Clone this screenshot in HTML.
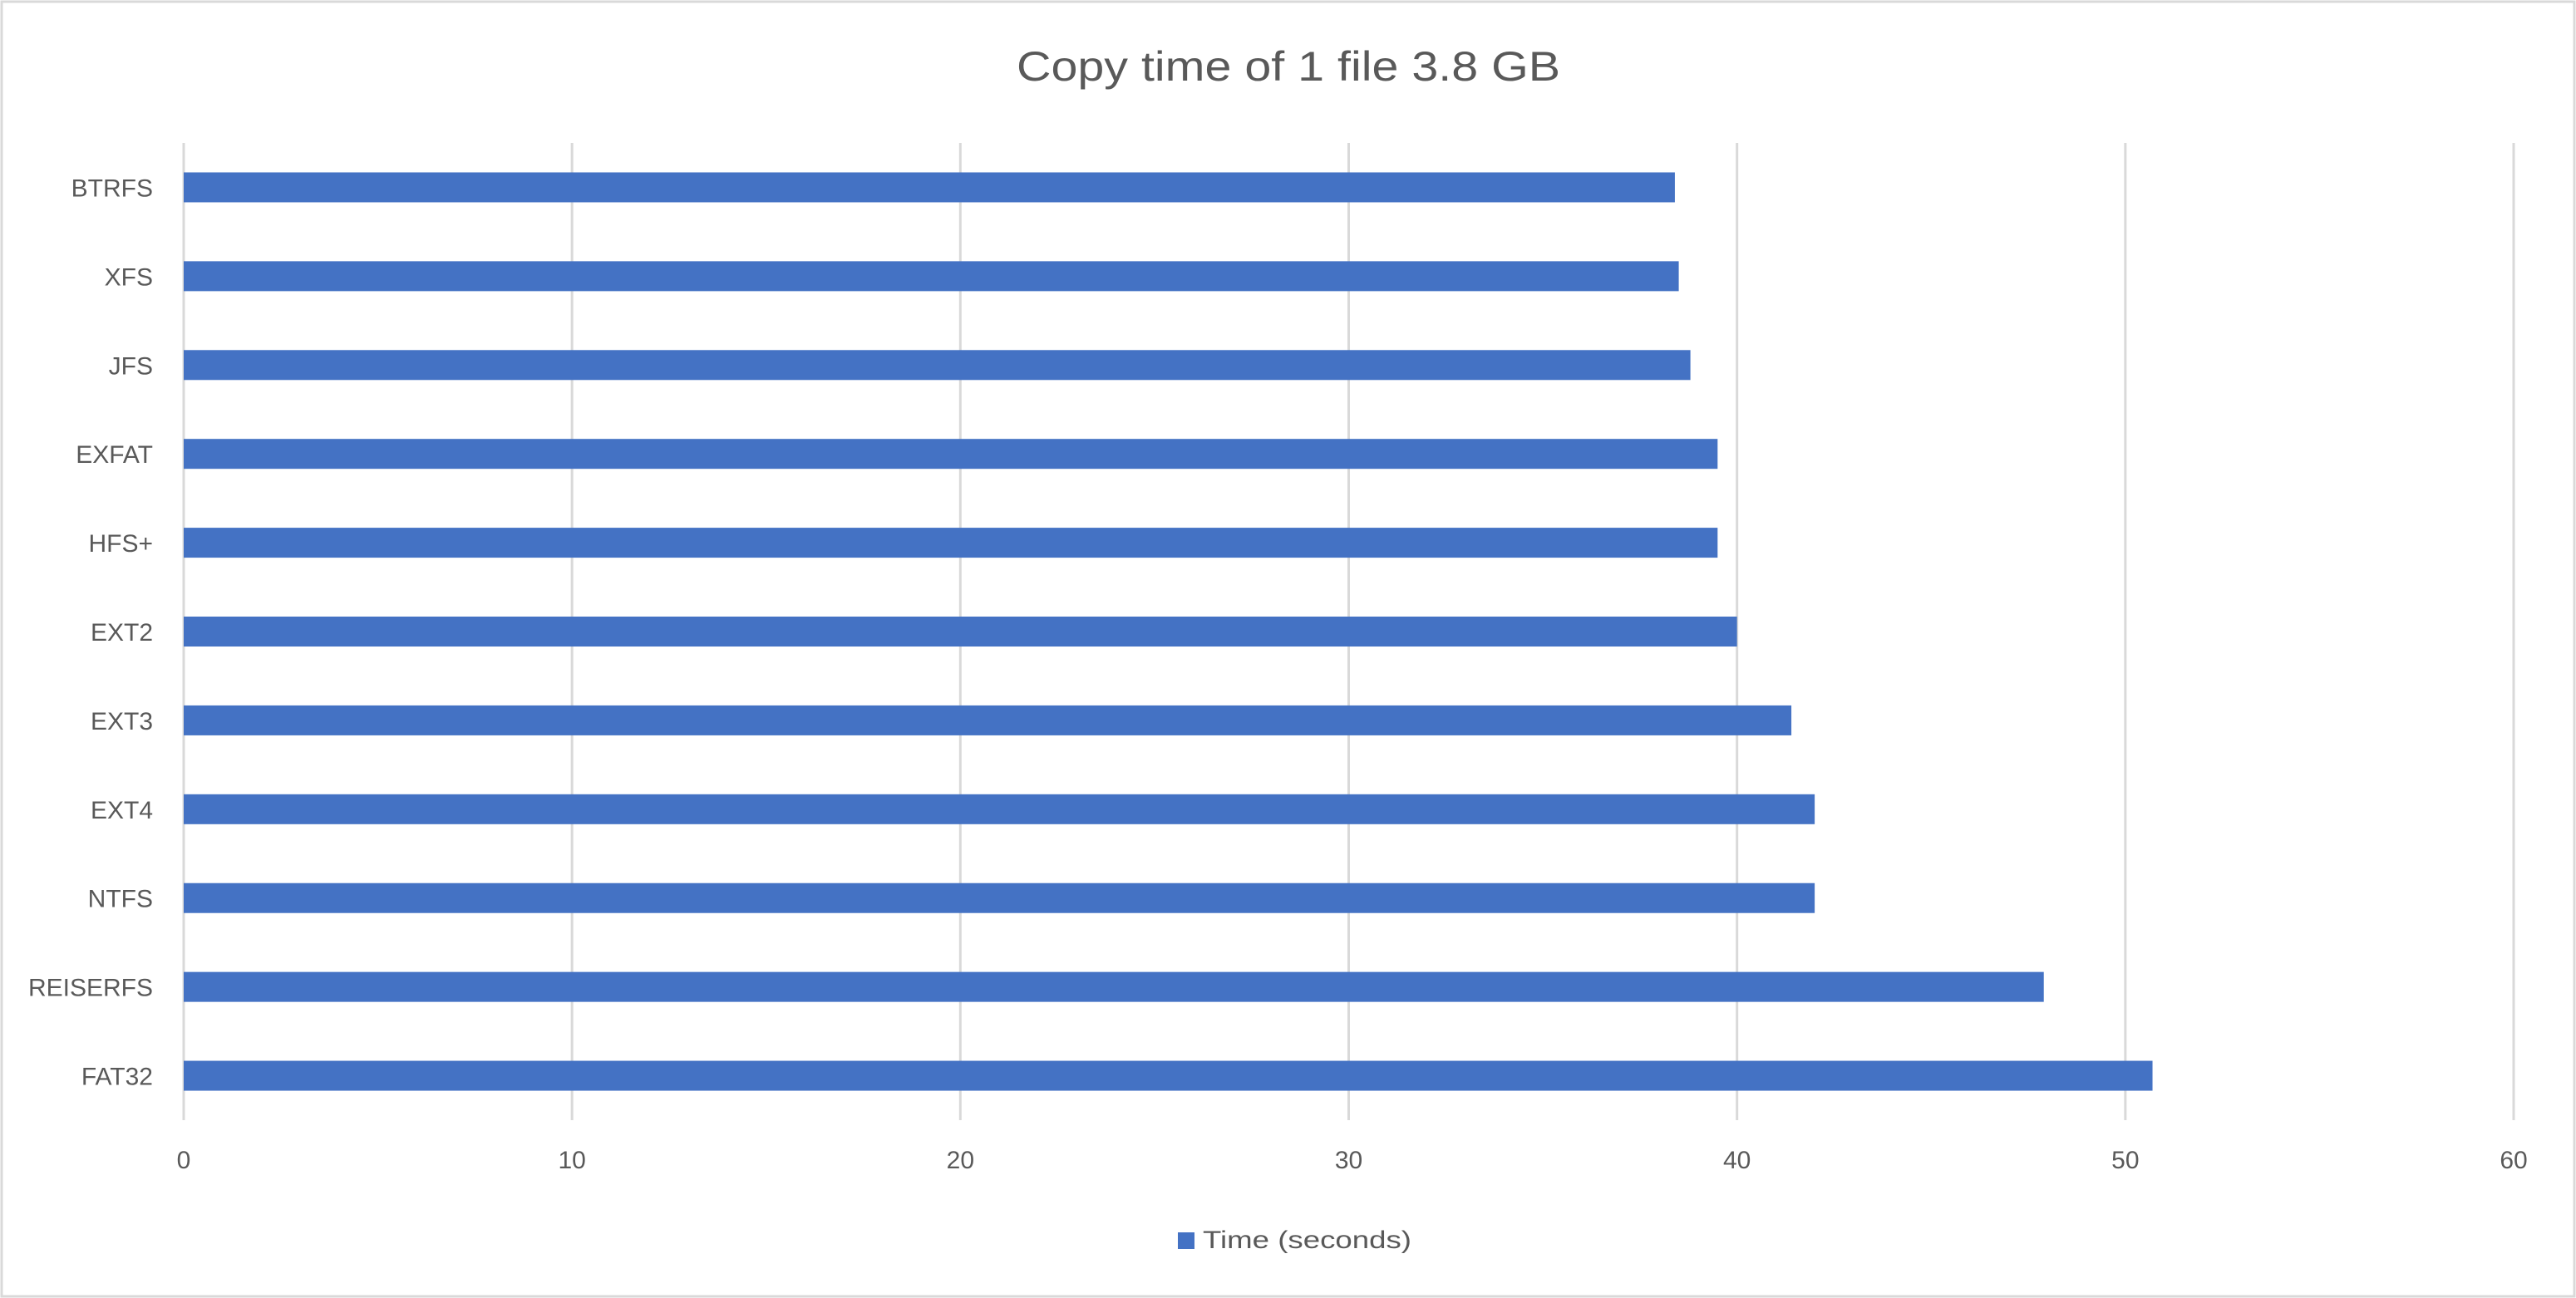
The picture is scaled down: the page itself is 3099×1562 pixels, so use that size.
<!DOCTYPE html>
<html><head><meta charset="utf-8"><style>
html,body{margin:0;padding:0;background:#fff;}
svg{display:block;font-family:"Liberation Sans",sans-serif;}
</style></head><body>
<svg id="chart" width="3099" height="1562" viewBox="0 0 3099 1562" xmlns="http://www.w3.org/2000/svg">
<rect x="2" y="2" width="3095" height="1558" fill="#fff" stroke="#d9d9d9" stroke-width="3"/>
<text x="1550" y="97" text-anchor="middle" font-size="50" fill="#595959" textLength="654" lengthAdjust="spacingAndGlyphs">Copy time of 1 file 3.8 GB</text>
<g id="grid"></g>
<g id="bars"></g>
<g id="ylabels"></g>
<g id="xlabels"></g>
<g>
<rect x="1417" y="1483" width="20" height="20" fill="#4472c4"/>
<text x="1447" y="1502" font-size="30" fill="#595959" textLength="251" lengthAdjust="spacingAndGlyphs">Time (seconds)</text>
</g>
</svg>
<script>
const categories = ["BTRFS","XFS","JFS","EXFAT","HFS+","EXT2","EXT3","EXT4","NTFS","REISERFS","FAT32"];
const values = [38.4,38.5,38.8,39.5,39.5,40.0,41.4,42.0,42.0,47.9,50.7];
const ticks = [0,10,20,30,40,50,60];
const NS="http://www.w3.org/2000/svg";
const X0=221, X1=3024, XMAX=60, TOP=172, BOT=1348;
const xs=v=>X0+(v/XMAX)*(X1-X0);
const band=(BOT-TOP)/categories.length;
const ys=i=>TOP+band*(i+0.5);
const barH=36;
function mk(tag,attrs,parent){const e=document.createElementNS(NS,tag);for(const k in attrs)e.setAttribute(k,attrs[k]);parent.appendChild(e);return e;}
const grid=document.getElementById('grid'),bars=document.getElementById('bars'),yl=document.getElementById('ylabels'),xl=document.getElementById('xlabels');
ticks.forEach(t=>{
  const l=mk('line',{x1:xs(t),x2:xs(t),y1:TOP,y2:BOT,stroke:'#d9d9d9','stroke-width':3},grid);
  
  
  const tx=mk('text',{x:xs(t),y:1406,'text-anchor':'middle','font-size':30,fill:'#595959'},xl);
  tx.textContent=t;
  
  
});
categories.forEach((c,i)=>{
  const r=mk('rect',{x:X0,y:ys(i)-barH/2,width:xs(values[i])-X0,height:barH,fill:'#4472c4'},bars);
  
  
  const t=mk('text',{x:184,y:ys(i)+11,'text-anchor':'end','font-size':30,fill:'#595959'},yl);
  t.textContent=c;
  
  
});
</script>
</body></html>
